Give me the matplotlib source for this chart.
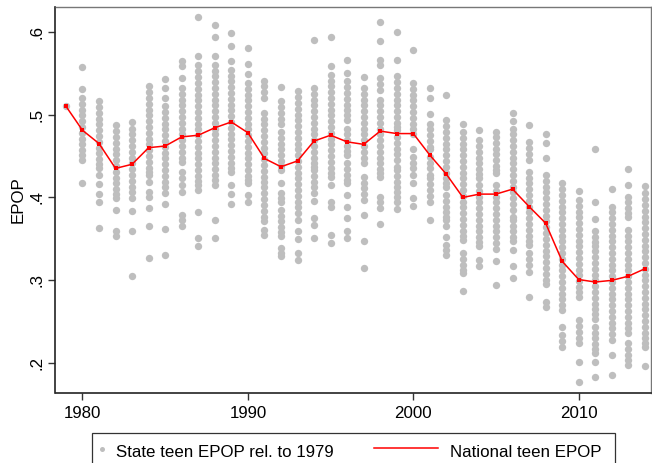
import numpy as np
import matplotlib.pyplot as plt
from matplotlib.lines import Line2D
from matplotlib.patches import Rectangle

plt.rcParams['font.family'] = ['Liberation Sans', 'DejaVu Sans']

# national teen employment-to-population ratio
years = list(range(1979, 2015))
national = [0.510, 0.481, 0.465, 0.435, 0.440, 0.460, 0.462, 0.473, 0.475, 0.484,
            0.491, 0.478, 0.447, 0.437, 0.444, 0.468, 0.475, 0.467, 0.464, 0.480,
            0.477, 0.477, 0.451, 0.428, 0.400, 0.404, 0.404, 0.410, 0.389, 0.369,
            0.323, 0.301, 0.298, 0.300, 0.305, 0.314]

# state teen EPOP (rel. to 1979), one list per year
y1979 = [0.510]
y1980 = [0.557, 0.531, 0.520, 0.513, 0.506, 0.499, 0.492, 0.485, 0.478, 0.471, 0.464,
         0.457, 0.451, 0.445, 0.417]
y1981 = [0.516, 0.509, 0.502, 0.495, 0.488, 0.481, 0.474, 0.467, 0.460, 0.453, 0.446,
         0.440, 0.435, 0.427, 0.416, 0.404, 0.395, 0.363]
y1982 = [0.487, 0.480, 0.473, 0.466, 0.459, 0.452, 0.445, 0.438, 0.431, 0.424, 0.417,
         0.410, 0.404, 0.399, 0.385, 0.359, 0.353]
y1983 = [0.491, 0.483, 0.476, 0.469, 0.462, 0.455, 0.448, 0.441, 0.434, 0.427, 0.420,
         0.413, 0.406, 0.399, 0.384, 0.359, 0.305]
y1984 = [0.534, 0.527, 0.520, 0.513, 0.506, 0.499, 0.492, 0.485, 0.478, 0.471, 0.464,
         0.457, 0.450, 0.443, 0.436, 0.431, 0.427, 0.419, 0.407, 0.401, 0.387, 0.365, 0.327]
y1985 = [0.543, 0.532, 0.520, 0.510, 0.503, 0.496, 0.489, 0.482, 0.475, 0.468, 0.461,
         0.454, 0.447, 0.440, 0.433, 0.426, 0.419, 0.412, 0.405, 0.392, 0.362, 0.330]
y1986 = [0.565, 0.558, 0.544, 0.532, 0.525, 0.518, 0.511, 0.504, 0.497, 0.490, 0.483,
         0.476, 0.469, 0.462, 0.455, 0.448, 0.443, 0.431, 0.424, 0.415, 0.406, 0.379,
         0.373, 0.365]
y1987 = [0.617, 0.571, 0.560, 0.552, 0.545, 0.538, 0.531, 0.524, 0.517, 0.510, 0.503,
         0.496, 0.489, 0.482, 0.475, 0.468, 0.461, 0.454, 0.447, 0.440, 0.433, 0.426,
         0.420, 0.415, 0.409, 0.382, 0.351, 0.341]
y1988 = [0.608, 0.593, 0.571, 0.560, 0.553, 0.546, 0.539, 0.532, 0.525, 0.518, 0.511,
         0.504, 0.497, 0.490, 0.483, 0.476, 0.469, 0.462, 0.455, 0.448, 0.441, 0.434,
         0.427, 0.421, 0.415, 0.373, 0.351]
y1989 = [0.598, 0.583, 0.565, 0.554, 0.547, 0.540, 0.533, 0.526, 0.519, 0.512, 0.505,
         0.498, 0.491, 0.484, 0.477, 0.470, 0.463, 0.456, 0.449, 0.442, 0.436, 0.431,
         0.415, 0.404, 0.392]
y1990 = [0.580, 0.561, 0.549, 0.538, 0.531, 0.524, 0.517, 0.510, 0.503, 0.496, 0.489,
         0.482, 0.475, 0.468, 0.461, 0.454, 0.447, 0.440, 0.433, 0.426, 0.421, 0.417,
         0.403, 0.394]
y1991 = [0.541, 0.534, 0.527, 0.520, 0.502, 0.495, 0.488, 0.481, 0.474, 0.467, 0.460,
         0.453, 0.446, 0.439, 0.432, 0.425, 0.419, 0.413, 0.405, 0.398, 0.391, 0.384,
         0.377, 0.371, 0.361, 0.355]
y1992 = [0.533, 0.516, 0.509, 0.502, 0.495, 0.489, 0.479, 0.472, 0.465, 0.458, 0.451,
         0.444, 0.438, 0.433, 0.418, 0.405, 0.399, 0.395, 0.385, 0.378, 0.371, 0.364,
         0.358, 0.353, 0.339, 0.333, 0.329]
y1993 = [0.528, 0.521, 0.514, 0.507, 0.500, 0.493, 0.486, 0.479, 0.472, 0.465, 0.458,
         0.451, 0.444, 0.437, 0.430, 0.423, 0.416, 0.409, 0.402, 0.395, 0.388, 0.381,
         0.373, 0.359, 0.350, 0.333, 0.325]
y1994 = [0.590, 0.532, 0.525, 0.518, 0.511, 0.504, 0.497, 0.490, 0.483, 0.476, 0.469,
         0.462, 0.455, 0.448, 0.442, 0.437, 0.433, 0.426, 0.419, 0.412, 0.405, 0.396,
         0.375, 0.367, 0.351]
y1995 = [0.594, 0.558, 0.548, 0.541, 0.534, 0.527, 0.520, 0.513, 0.506, 0.499, 0.492,
         0.485, 0.478, 0.471, 0.464, 0.457, 0.450, 0.443, 0.436, 0.430, 0.425, 0.415,
         0.395, 0.389, 0.355, 0.345]
y1996 = [0.566, 0.550, 0.540, 0.533, 0.526, 0.519, 0.512, 0.505, 0.499, 0.493, 0.483,
         0.476, 0.469, 0.462, 0.456, 0.451, 0.441, 0.434, 0.427, 0.421, 0.417, 0.403,
         0.389, 0.375, 0.359, 0.351]
y1997 = [0.545, 0.532, 0.525, 0.518, 0.511, 0.504, 0.497, 0.490, 0.483, 0.476, 0.469,
         0.462, 0.455, 0.448, 0.441, 0.425, 0.418, 0.411, 0.404, 0.397, 0.379, 0.348, 0.315]
y1998 = [0.611, 0.589, 0.566, 0.560, 0.544, 0.537, 0.530, 0.518, 0.511, 0.504, 0.497,
         0.490, 0.483, 0.476, 0.469, 0.462, 0.455, 0.448, 0.441, 0.434, 0.429, 0.425,
         0.401, 0.394, 0.387, 0.368]
y1999 = [0.600, 0.566, 0.546, 0.539, 0.532, 0.525, 0.518, 0.511, 0.504, 0.497, 0.490,
         0.485, 0.481, 0.473, 0.466, 0.459, 0.452, 0.445, 0.437, 0.433, 0.426, 0.419,
         0.413, 0.407, 0.401, 0.395, 0.386]
y2000 = [0.578, 0.538, 0.531, 0.524, 0.517, 0.510, 0.503, 0.496, 0.489, 0.483, 0.477,
         0.459, 0.449, 0.442, 0.435, 0.427, 0.418, 0.399, 0.390]
y2001 = [0.532, 0.520, 0.501, 0.489, 0.482, 0.475, 0.468, 0.461, 0.459, 0.449, 0.442,
         0.435, 0.427, 0.423, 0.416, 0.409, 0.402, 0.395, 0.373]
y2002 = [0.524, 0.493, 0.486, 0.479, 0.472, 0.465, 0.458, 0.451, 0.444, 0.437, 0.430,
         0.423, 0.418, 0.413, 0.403, 0.396, 0.389, 0.382, 0.376, 0.373, 0.365, 0.352,
         0.343, 0.337, 0.331]
y2003 = [0.489, 0.479, 0.472, 0.465, 0.458, 0.451, 0.444, 0.437, 0.430, 0.423, 0.416,
         0.409, 0.402, 0.395, 0.388, 0.381, 0.374, 0.367, 0.360, 0.354, 0.349, 0.333,
         0.326, 0.319, 0.313, 0.309, 0.287]
y2004 = [0.481, 0.469, 0.462, 0.455, 0.448, 0.441, 0.434, 0.428, 0.423, 0.415, 0.408,
         0.401, 0.394, 0.387, 0.380, 0.373, 0.366, 0.359, 0.352, 0.346, 0.341, 0.325, 0.317]
y2005 = [0.479, 0.473, 0.466, 0.459, 0.452, 0.445, 0.438, 0.433, 0.429, 0.415, 0.408,
         0.401, 0.394, 0.387, 0.380, 0.373, 0.366, 0.359, 0.352, 0.345, 0.338, 0.323, 0.294]
y2006 = [0.502, 0.492, 0.483, 0.476, 0.469, 0.462, 0.455, 0.448, 0.441, 0.434, 0.427,
         0.420, 0.413, 0.406, 0.399, 0.392, 0.385, 0.377, 0.373, 0.366, 0.359, 0.352,
         0.347, 0.337, 0.317, 0.303]
y2007 = [0.487, 0.467, 0.460, 0.452, 0.445, 0.431, 0.424, 0.417, 0.410, 0.403, 0.396,
         0.389, 0.382, 0.375, 0.368, 0.361, 0.354, 0.348, 0.343, 0.333, 0.326, 0.319,
         0.310, 0.280]
y2008 = [0.477, 0.466, 0.448, 0.427, 0.420, 0.413, 0.406, 0.399, 0.392, 0.385, 0.378,
         0.371, 0.364, 0.357, 0.350, 0.343, 0.336, 0.329, 0.322, 0.315, 0.308, 0.301,
         0.296, 0.274, 0.268]
y2009 = [0.417, 0.410, 0.403, 0.396, 0.389, 0.382, 0.375, 0.368, 0.361, 0.354, 0.347,
         0.340, 0.333, 0.326, 0.319, 0.312, 0.305, 0.298, 0.291, 0.284, 0.277, 0.270,
         0.264, 0.244, 0.234, 0.227, 0.220]
y2010 = [0.408, 0.397, 0.390, 0.383, 0.376, 0.369, 0.362, 0.355, 0.348, 0.341, 0.334,
         0.327, 0.320, 0.313, 0.306, 0.299, 0.292, 0.286, 0.280, 0.252, 0.245, 0.238,
         0.231, 0.224, 0.202, 0.177]
y2011 = [0.459, 0.394, 0.374, 0.359, 0.352, 0.346, 0.341, 0.335, 0.328, 0.321, 0.314,
         0.307, 0.300, 0.293, 0.286, 0.279, 0.272, 0.265, 0.259, 0.254, 0.244, 0.237,
         0.230, 0.223, 0.217, 0.212, 0.201, 0.184]
y2012 = [0.410, 0.389, 0.382, 0.375, 0.368, 0.361, 0.354, 0.347, 0.340, 0.333, 0.326,
         0.319, 0.312, 0.305, 0.298, 0.291, 0.284, 0.277, 0.270, 0.263, 0.256, 0.249,
         0.242, 0.235, 0.228, 0.210, 0.186]
y2013 = [0.434, 0.415, 0.401, 0.394, 0.387, 0.381, 0.377, 0.361, 0.354, 0.347, 0.340,
         0.333, 0.326, 0.319, 0.312, 0.305, 0.298, 0.291, 0.284, 0.277, 0.270, 0.263,
         0.256, 0.249, 0.242, 0.236, 0.224, 0.217, 0.210, 0.204, 0.198]
y2014 = [0.414, 0.405, 0.398, 0.391, 0.384, 0.377, 0.370, 0.363, 0.356, 0.349, 0.342,
         0.335, 0.328, 0.321, 0.314, 0.307, 0.300, 0.293, 0.286, 0.279, 0.272, 0.265,
         0.258, 0.251, 0.244, 0.237, 0.230, 0.225, 0.220, 0.197]

state_cols = [y1979, y1980, y1981, y1982, y1983, y1984, y1985, y1986, y1987, y1988,
              y1989, y1990, y1991, y1992, y1993, y1994, y1995, y1996, y1997, y1998,
              y1999, y2000, y2001, y2002, y2003, y2004, y2005, y2006, y2007, y2008,
              y2009, y2010, y2011, y2012, y2013, y2014]

x_ticks = [1980, 1990, 2000, 2010]
y_ticks = [0.2, 0.3, 0.4, 0.5, 0.6]
y_tick_labels = ['.2', '.3', '.4', '.5', '.6']

GREY = '#bebebe'
RED = '#ff0000'
FS = 12.2
W, H = 652, 463


def fx(px):
    return px / W


def fy(py):
    return 1 - py / H


def main():
    sx = np.concatenate([[yr] * len(col) for yr, col in zip(years, state_cols)])
    sy = np.concatenate(state_cols)

    fig = plt.figure(figsize=(W / 100, H / 100), dpi=100)
    ax = fig.add_axes([fx(55.5), fy(393.3), fx(650.5) - fx(55.5), fy(6.7) - fy(393.3)])

    ax.scatter(sx, sy, s=28, color=GREY, linewidths=0, zorder=2)
    ax.plot(years, national, color=RED, lw=1.1, marker='s', ms=2.2, mew=0, zorder=3)

    ax.set_xlim(1978.37, 2014.34)
    ax.set_ylim(0.1638, 0.630)
    ax.set_xticks(x_ticks)
    ax.set_yticks(y_ticks)
    ax.set_yticklabels(y_tick_labels, rotation=90, va='center')
    ax.tick_params(axis='both', direction='out', length=5, width=1, labelsize=FS,
                   color='#333333')
    ax.tick_params(axis='y', pad=3)
    ax.tick_params(axis='x', pad=4)
    ax.set_ylabel('EPOP', fontsize=FS, labelpad=3)
    for side in ['left', 'bottom']:
        ax.spines[side].set_color('#222222')
        ax.spines[side].set_linewidth(1.2)
    for side in ['top', 'right']:
        ax.spines[side].set_color('#777777')
        ax.spines[side].set_linewidth(1.0)

    # legend box below the plot, running off the bottom edge
    fig.add_artist(Rectangle((fx(91.7), fy(475)), fx(615) - fx(91.7), fy(433.3) - fy(475),
                             transform=fig.transFigure, fill=False, ec='#333333', lw=0.9))
    fig.add_artist(Line2D([fx(101.7)], [fy(449.3)], transform=fig.transFigure,
                          marker='o', ms=3.6, mew=0, color=GREY, ls='none'))
    fig.text(fx(116), fy(456.7), 'State teen EPOP rel. to 1979', fontsize=FS,
             va='baseline', ha='left')
    fig.add_artist(Line2D([fx(374.3), fx(438.3)], [fy(448.3), fy(448.3)],
                          transform=fig.transFigure, color=RED, lw=1.1))
    fig.text(fx(450), fy(456.7), 'National teen EPOP', fontsize=FS,
             va='baseline', ha='left')

    fig.savefig('out.png', dpi=100)


if __name__ == '__main__':
    main()
